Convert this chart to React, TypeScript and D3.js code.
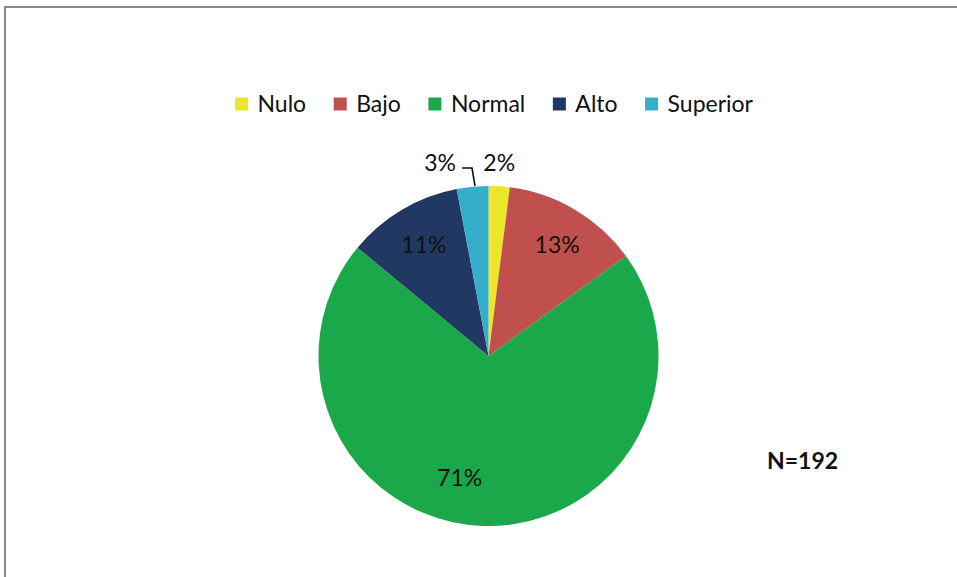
import React, { useMemo } from "react";
import * as d3 from "d3";

const categories = ["Nulo", "Bajo", "Normal", "Alto", "Superior"];
const percentages = [2, 13, 71, 11, 3];
const colors = ["#ECE62A", "#C0504D", "#1AA84B", "#213863", "#35AECB"];
const sampleLabel = "N=192";

const W = 957;
const H = 577;
const FONT = "Lato, 'Open Sans', sans-serif";

function measure(text: string, font: string): number {
  if (typeof document === "undefined") return text.length * 12;
  const c = document.createElement("canvas");
  const ctx = c.getContext("2d");
  if (!ctx) return text.length * 12;
  ctx.font = font;
  return ctx.measureText(text).width;
}

export default function App() {
  const cx = 488.5;
  const cy = 356;
  const R = 170;

  const pie = d3.pie<number>().sort(null).value((d) => d);
  const arcs = pie(percentages);
  const arcGen = d3.arc<d3.PieArcDatum<number>>().innerRadius(0).outerRadius(R);
  const labelArc = d3.arc<d3.PieArcDatum<number>>().innerRadius(R * 0.77).outerRadius(R * 0.77);

  const legend = useMemo(() => {
    const sq = 13;
    const gapText = 9.5;
    const left = 235;
    const right = 753;
    const widths = categories.map((c) => measure(c, `23px ${FONT}`));
    const used = widths.reduce((a, w) => a + sq + gapText + w, 0);
    const gapItem = (right - left - used) / (categories.length - 1);
    let x = left;
    return categories.map((c, i) => {
      const item = { x, name: c, color: colors[i] };
      x += sq + gapText + widths[i] + gapItem;
      return item;
    });
  }, []);

  const last = arcs.length - 1;
  const sup = arcs[last];
  const supMid = (sup.startAngle + sup.endAngle) / 2;
  const lp0 = [Math.sin(supMid) * R + 2.5, -R];
  const lp1 = [lp0[0] - 3, -R - 18];
  const lp2 = [lp1[0] - 10, -R - 18];

  const labels = arcs.map((a, i) => {
    const mid = (a.startAngle + a.endAngle) / 2;
    const text = `${percentages[i]}%`;
    if (percentages[i] < 5) {
      if (i === last) {
        return { x: lp2[0] - 6, y: -R - 24, text, anchor: "end" };
      }
      return { x: Math.sin(mid) * R, y: -R - 24, text, anchor: "middle" };
    }
    let [lx, ly] = labelArc.centroid(a);
    if (categories[i] === "Normal") {
      const ang = mid + 0.22;
      const r = R * 0.73;
      lx = Math.sin(ang) * r;
      ly = -Math.cos(ang) * r;
    }
    return { x: lx + 2, y: ly + 1, text, anchor: "middle" };
  });

  return (
    <svg
      width={W}
      height={H}
      style={{ position: "absolute", left: 0, top: 0, background: "#fff" }}
      fontFamily={FONT}
    >
      <rect x={0} y={0} width={W} height={H} fill="#fff" />
      <rect x={5} y={7} width={W + 20} height={H + 20} fill="#fff" stroke="#888" strokeWidth={2} />
      <g>
        {legend.map((l) => (
          <g key={l.name}>
            <rect x={l.x} y={97.5} width={13} height={13} fill={l.color} />
            <text x={l.x + 22.5} y={112} fontSize={23} fill="#111">
              {l.name}
            </text>
          </g>
        ))}
      </g>
      <g transform={`translate(${cx},${cy})`}>
        {arcs.map((a, i) => (
          <path key={i} d={arcGen(a) || ""} fill={colors[i]} />
        ))}
        <polyline
          points={[lp0, lp1, lp2].map((p) => p.join(",")).join(" ")}
          fill="none"
          stroke="#111"
          strokeWidth={1.6}
        />
        {labels.map((l, i) => (
          <text
            key={i}
            x={l.x}
            y={l.y}
            textAnchor={l.anchor as any}
            dominantBaseline="central"
            fontSize={23}
            fill="#111"
          >
            {l.text}
          </text>
        ))}
      </g>
      <text x={767} y={469} fontSize={23} fontWeight="bold" fill="#111">
        {sampleLabel}
      </text>
    </svg>
  );
}
